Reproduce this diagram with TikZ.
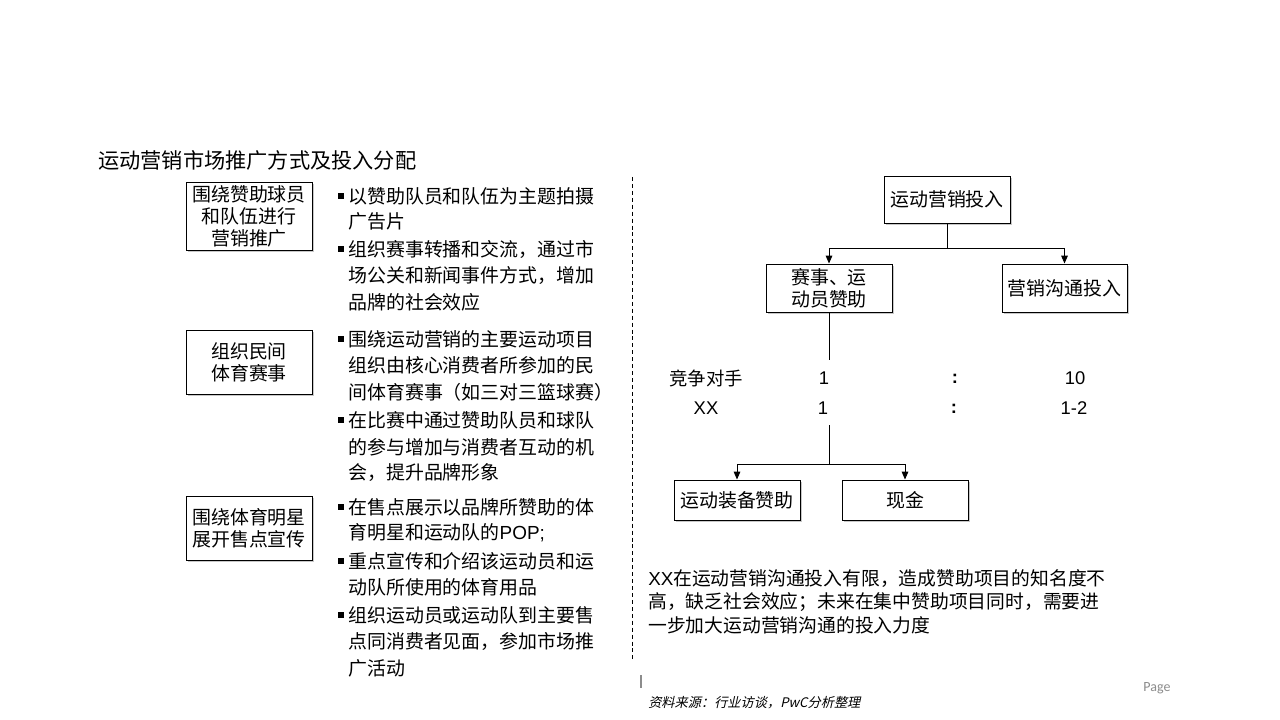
\documentclass[tikz,border=0pt]{standalone}
\usepackage{fontspec}
\setmainfont{Noto Sans CJK SC}
\newfontfamily\lat{Liberation Sans}
\newfontfamily\cjkit[FakeSlant=0.22]{Noto Sans CJK SC}
\newfontfamily\pagefont{Carlito}
\usetikzlibrary{arrows.meta,shadows}
\begin{document}
\begin{tikzpicture}[x=0.75pt,y=-0.75pt,
  box/.style={draw=black,line width=0.7pt,fill=white,inner sep=0pt,align=center,
    minimum width=94.5pt,font=\fontsize{14.2}{16.5}\selectfont,
    drop shadow={shadow xshift=1.2pt,shadow yshift=-1.2pt,fill=black!22,opacity=1}},
  txt/.style={anchor=west,inner sep=0pt,font=\fontsize{14.2}{19}\selectfont},
  lab/.style={inner sep=0pt,font=\fontsize{13.8}{17}\selectfont},
  bul/.style={fill=black,inner sep=0pt,minimum size=4pt},
  conn/.style={line width=0.7pt},
  arr/.style={line width=0.7pt,-{Triangle[width=5pt,length=6pt]}}]
\fill[white] (0,0) rectangle (1280,720);
\useasboundingbox (0,0) rectangle (1280,720);

% title
\node[anchor=west,inner sep=0pt,font=\fontsize{15.9}{19}\selectfont] (title) at (98,160) {运动营销市场推广方式及投入分配};

% left boxes
\node[box,minimum height=51pt] (L1) at (249,216) {围绕赞助球员\\和队伍进行\\营销推广};
\node[box,minimum height=48pt] (L2) at (249,362) {组织民间\\体育赛事};
\node[box,minimum height=48pt] (L3) at (249,528) {围绕体育明星\\展开售点宣传};

% bullets
\foreach \i/\y in {1/196,2/249,3/339,4/420,5/507,6/561,7/615}
  \node[bul] (b\i) at (341,\y) {};

\foreach \i/\y/\t in {
  1/196/以赞助队员和队伍为主题拍摄,
  2/221/广告片,
  3/249/组织赛事转播和交流，通过市,
  4/276/场公关和新闻事件方式，增加,
  5/302/品牌的社会效应,
  6/339/围绕运动营销的主要运动项目,
  7/365/组织由核心消费者所参加的民,
  8/392/间体育赛事（如三对三篮球赛）,
  9/420/在比赛中通过赞助队员和球队,
  10/447/的参与增加与消费者互动的机,
  11/473/会，提升品牌形象,
  12/507/在售点展示以品牌所赞助的体,
  13/533/育明星和运动队的{\lat POP;},
  14/561/重点宣传和介绍该运动员和运,
  15/587/动队所使用的体育用品,
  16/615/组织运动员或运动队到主要售,
  17/641/点同消费者见面，参加市场推,
  18/668/广活动}
  \node[txt] (t\i) at (348,\y) {\t};

% divider
\coordinate (d1) at (632,177);
\coordinate (d2) at (632,662);
\draw[line width=0.6pt,dash pattern=on 3pt off 2.2pt] (d1) -- (d2);

% right tree
\node[box,minimum height=35.25pt] (top) at (947,199.5) {运动营销投入};
\node[box,minimum height=36pt] (spon) at (829,288) {赛事、运\\动员赞助};
\node[box,minimum height=36pt,minimum width=93.75pt] (comm) at (1064.5,288) {营销沟通投入};
\node[box,minimum height=30pt] (equip) at (737,500) {运动装备赞助};
\node[box,minimum height=30pt] (cash) at (905,500) {现金};

\coordinate (j1) at (947,248);
\coordinate (j2) at (829,464);
\coordinate (g1) at (829,360);
\coordinate (g2) at (829,425);
\draw[conn] (top.south) -- (j1);
\draw[arr] (j1) -| (spon.north);
\draw[arr] (j1) -| (comm.north);
\draw[conn] (spon.south) -- (g1);
\draw[conn] (g2) -- (j2);
\draw[arr] (j2) -| (equip.north);
\draw[arr] (j2) -| (cash.north);

% ratio labels
\node[lab] (r1) at (706,378) {竞争对手};
\node[lab] (r2) at (706,408) {\lat XX};
\node[lab] (r3) at (824,378) {\lat 1};
\node[lab] (r4) at (823,408) {\lat 1};
\node[lab] (r5) at (955,379) {\lat\bfseries :};
\node[lab] (r6) at (954,409) {\lat\bfseries :};
\node[lab] (r7) at (1075,378) {\lat 10};
\node[lab] (r8) at (1074,408) {\lat 1-2};

% conclusion
\node[txt,font=\fontsize{14.1}{17}\selectfont] (c1) at (648,579) {{\lat XX}在运动营销沟通投入有限，造成赞助项目的知名度不};
\node[txt,font=\fontsize{14.1}{17}\selectfont] (c2) at (648,602) {高，缺乏社会效应；未来在集中赞助项目同时，需要进};
\node[txt,font=\fontsize{14.1}{17}\selectfont] (c3) at (648,625) {一步加大运动营销沟通的投入力度};

% footer
\coordinate (f1) at (641,675);
\coordinate (f2) at (641,688);
\draw[black!45,line width=0.8pt] (f1) -- (f2);
\node[inner sep=0pt,text=black!45,font=\pagefont\fontsize{10.5}{12}\selectfont] (page) at (1157,688) {Page};
\node[anchor=west,inner sep=0pt,font=\cjkit\fontsize{9.9}{11}\selectfont] (src) at (648,703) {资料来源：行业访谈，PwC分析整理};
\end{tikzpicture}
\end{document}
